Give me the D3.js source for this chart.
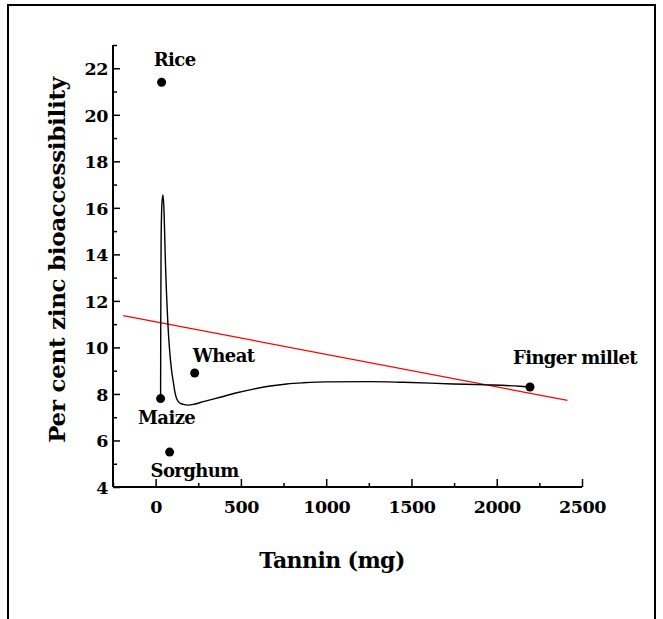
<!DOCTYPE html>
<html>
<head>
<meta charset="utf-8">
<script src="https://cdn.jsdelivr.net/npm/d3@7"></script>
<style>
  html, body { margin: 0; padding: 0; background: #fff; }
  svg { display: block; }
  text { font-family: "DejaVu Serif", "Liberation Serif", serif; font-weight: bold; fill: #000; }
</style>
</head>
<body>
<svg id="chart" width="663" height="619"></svg>
<script>
// ---- data ----
const cereals = ["Rice", "Maize", "Sorghum", "Wheat", "Finger millet"];
const tannin = [35, 29, 82, 229, 2195];
const zincBio = [21.4, 7.8, 5.5, 8.9, 8.3];

// smooth fitted curve
const curveX = [29, 30, 32, 37, 43, 49, 57, 72, 92, 104, 114, 124, 140, 162, 192, 230, 280, 378, 476, 573, 671, 769, 866, 1000, 1257, 1452, 1745, 1941, 2136, 2195];
const curveY = [7.8, 11, 14.5, 16.2, 16.55, 15.9, 13.75, 11.0, 9.1, 8.5, 8.05, 7.78, 7.62, 7.55, 7.52, 7.57, 7.67, 7.86, 8.05, 8.21, 8.34, 8.43, 8.48, 8.52, 8.53, 8.50, 8.43, 8.39, 8.33, 8.3];

// linear trend line endpoints
const trendX = [-190, 2415];
const trendY = [11.37, 7.72];

const xTicks = [0, 500, 1000, 1500, 2000, 2500];
const xMinorTicks = [-250, 250, 750, 1250, 1750, 2250];
const yTicks = [4, 6, 8, 10, 12, 14, 16, 18, 20, 22];
const yMinorTicks = [5, 7, 9, 11, 13, 15, 17, 19, 21, 23];

(function () {
// ---- layout ----
const svg = d3.select("#chart");
const mLeft = 113, mRight = 582, mTop = 45, mBottom = 487;

const x = d3.scaleLinear().domain([-250, 2500]).range([mLeft, mRight]);
const y = d3.scaleLinear().domain([4, 23]).range([mBottom, mTop]);

// frame
svg.append("rect")
  .attr("x", 8).attr("y", 5).attr("width", 647).attr("height", 640)
  .attr("fill", "none").attr("stroke", "#000").attr("stroke-width", 2);

// axes
const xAxis = svg.append("g").attr("transform", `translate(0,${mBottom})`)
  .call(d3.axisBottom(x).tickValues(xTicks).tickSize(-8).tickPadding(0).tickFormat(d3.format("d")));
const xMinor = svg.append("g").attr("transform", `translate(0,${mBottom})`)
  .call(d3.axisBottom(x).tickValues(xMinorTicks).tickSize(-4).tickFormat(""));
const yAxis = svg.append("g").attr("transform", `translate(${mLeft},0)`)
  .call(d3.axisLeft(y).tickValues(yTicks).tickSize(-7).tickPadding(0).tickFormat(d3.format("d")));
const yMinor = svg.append("g").attr("transform", `translate(${mLeft},0)`)
  .call(d3.axisLeft(y).tickValues(yMinorTicks).tickSize(-4).tickFormat(""));

[xAxis, xMinor, yAxis, yMinor].forEach(g => {
  g.select(".domain").attr("stroke", "#000").attr("stroke-width", 2);
  g.selectAll(".tick line").attr("stroke", "#000").attr("stroke-width", 1.5);
});
xMinor.select(".domain").remove();
yMinor.select(".domain").remove();
xAxis.select(".domain").attr("d", `M${mLeft},0H${mRight}`);
yAxis.select(".domain").attr("d", `M0,${mBottom}V${mTop}`);

xAxis.selectAll(".tick text")
  .attr("y", 26).attr("dy", 0)
  .style("font-size", "17.5px").style("font-family", "DejaVu Serif").style("font-weight", "bold")
  .attr("letter-spacing", "-0.4");
yAxis.selectAll(".tick text")
  .attr("x", -5).attr("dy", "0.36em")
  .style("font-size", "17.5px").style("font-family", "DejaVu Serif").style("font-weight", "bold")
  .attr("letter-spacing", "-0.4");

// trend line
const trend = trendX.map((d, i) => [d, trendY[i]]);
svg.append("path")
  .datum(trend)
  .attr("d", d3.line().x(d => x(d[0])).y(d => y(d[1])))
  .attr("fill", "none").attr("stroke", "#ff0000").attr("stroke-width", 1.2);

// fitted curve
const curvePts = curveX.map((d, i) => [d, curveY[i]]);
svg.append("path")
  .datum(curvePts)
  .attr("d", d3.line().x(d => x(d[0])).y(d => y(d[1])).curve(d3.curveMonotoneX))
  .attr("fill", "none").attr("stroke", "#000").attr("stroke-width", 1.4);

// points
const pts = cereals.map((c, i) => ({ name: c, x: tannin[i], y: zincBio[i] }));
svg.append("g").selectAll("circle").data(pts).enter().append("circle")
  .attr("cx", d => x(d.x)).attr("cy", d => y(d.y)).attr("r", 4.5).attr("fill", "#000");

// labels
const labelOffsets = {
  "Rice": { dx: 13, dy: -16, anchor: "middle" },
  "Maize": { dx: 6, dy: 25, anchor: "middle" },
  "Sorghum": { dx: 25, dy: 25, anchor: "middle" },
  "Wheat": { dx: -2, dy: -11, anchor: "start" },
  "Finger millet": { dx: -17, dy: -23, anchor: "start" }
};
svg.append("g").selectAll("text").data(pts).enter().append("text")
  .attr("x", d => x(d.x) + labelOffsets[d.name].dx)
  .attr("y", d => y(d.y) + labelOffsets[d.name].dy)
  .attr("text-anchor", d => labelOffsets[d.name].anchor)
  .style("font-size", "18px")
  .attr("letter-spacing", "-0.6")
  .text(d => d.name);

// axis titles
svg.append("text")
  .attr("x", 332).attr("y", 568)
  .attr("text-anchor", "middle")
  .style("font-size", "22px")
  .attr("letter-spacing", "-0.6")
  .text("Tannin (mg)");

svg.append("text")
  .attr("transform", "translate(65,260) rotate(-90)")
  .attr("text-anchor", "middle")
  .style("font-size", "23px")
  .attr("letter-spacing", "-0.3")
  .text("Per cent zinc bioaccessibility");
})();
</script>
</body>
</html>
